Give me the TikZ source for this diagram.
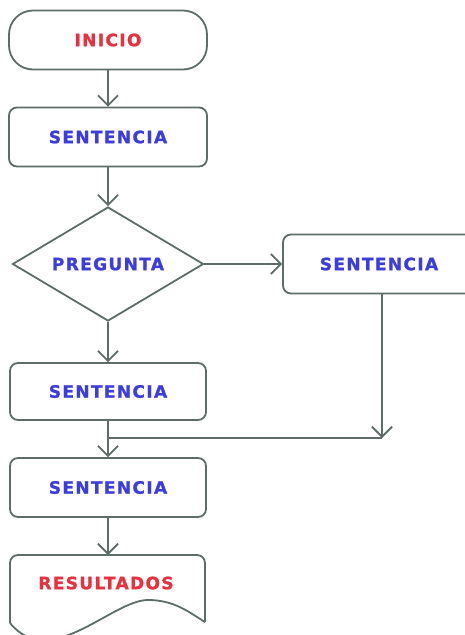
\documentclass[tikz,border=0pt]{standalone}
\usepackage{fontspec}
\usetikzlibrary{shapes.geometric,arrows.meta}
\newfontfamily\lblfont[LetterSpace=8,BoldFeatures={FakeBold=1.3}]{DejaVu Sans}
\definecolor{linegray}{HTML}{5E6D69}
\definecolor{startred}{HTML}{E8303F}
\definecolor{stepblue}{HTML}{3C3CDF}
\tikzset{
  lbl/.style={font=\lblfont\bfseries\fontsize{17}{19}\selectfont},
  box/.style={draw=linegray, line width=1.8pt, fill=white, rounded corners=8pt,
    minimum width=196pt, minimum height=59pt, inner sep=0pt,
    lbl, text=stepblue},
  terminal/.style={box, rounded corners=24pt, text=startred},
  decision/.style={draw=linegray, line width=1.8pt, diamond, aspect=1.675,
    minimum width=191pt, minimum height=114pt, inner sep=0pt,
    lbl, text=stepblue},
  flow/.style={draw=linegray, line width=1.8pt,
    -{Straight Barb[length=10pt,width=20pt,line width=1.8pt]}},
  link/.style={draw=linegray, line width=1.8pt}
}
\begin{document}
\begin{tikzpicture}[x=1pt,y=-1pt]
  \useasboundingbox (0,0) rectangle (465,635);
  \clip (0,0) rectangle (465,635);
  \fill[white] (0,0) rectangle (465,635);

  % main column
  \node[terminal, minimum width=198pt] (inicio) at (108,40) {INICIO};
  \node[box, minimum width=198pt] (s1) at (108,137) {SENTENCIA};
  \node[decision] (preg) at (108,264) {PREGUNTA};
  \node[box, minimum width=192pt] (sr) at (379,264) {SENTENCIA};
  \node[box, minimum height=57pt] (s3) at (108,391.5) {SENTENCIA};
  \node[box] (s4) at (108,487.5) {SENTENCIA};

  % output document with wavy lower edge
  \coordinate (dtl) at (10,555);
  \coordinate (dtr) at (205,555);
  \coordinate (dbl) at (10,623);
  \coordinate (dbr) at (205,622);
  \draw[linegray, line width=1.8pt, fill=white, rounded corners=8pt]
    (dbl) -- (dtl) -- (dtr) -- (dbr);
  \draw[linegray, line width=1.8pt]
    (dbl) .. controls (50,672) and (112,600) .. (148,600)
          .. controls (175,600) and (190,613) .. (dbr);
  \node[lbl, text=startred] (res) at (106,583) {RESULTADOS};
  \coordinate (restop) at (108,555);

  % merge point
  \coordinate (join) at (108,438);
  \coordinate (joinr) at (382,438);

  % connectors
  \draw[flow] (inicio) -- (s1);
  \draw[flow] (s1) -- (preg);
  \draw[flow] (preg.east) -- (sr.west);
  \draw[flow] (preg.south) -- (s3);
  \draw[flow] (s3) -- (s4);
  \draw[link] (join) -- (joinr);
  \draw[flow] (sr.south -| joinr) -- (joinr);
  \draw[flow] (s4) -- (restop);
\end{tikzpicture}
\end{document}
